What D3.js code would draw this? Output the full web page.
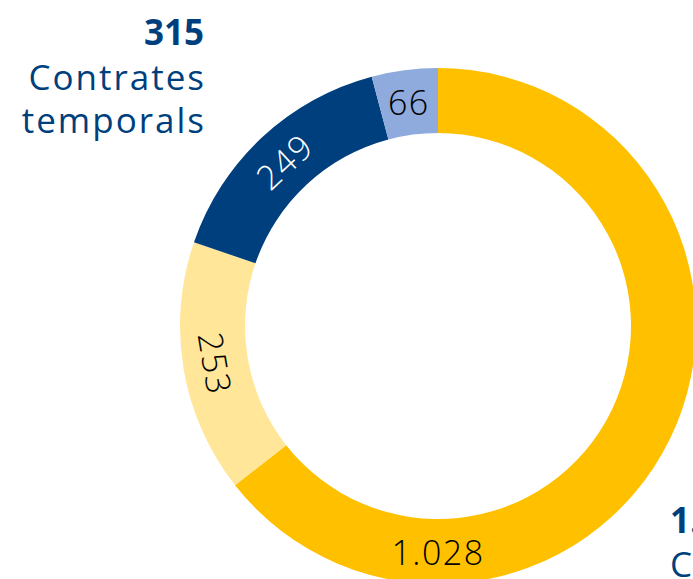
<!DOCTYPE html>
<html><head><meta charset="utf-8">
<script src="https://cdn.jsdelivr.net/npm/d3@7"></script>
<style>
html,body{margin:0;padding:0;background:#fff;overflow:hidden;}
svg{display:block;font-family:"Open Sans",sans-serif;}
</style></head>
<body><svg id="c" width="693" height="579"></svg>
<script>
const categories = ["Indefinits A", "Indefinits B", "Temporals A", "Temporals B"];
const values = [1028, 253, 249, 66];
const valueLabels = ["1.028", "253", "249", "66"];
const colors = ["#FFC000", "#FFE699", "#003F7D", "#8FAADC"];
const labelColors = ["#000000", "#000000", "#ffffff", "#000000"];
const groupTotals = ["315", "1.281"];
const groupNames = [["Contrates", "temporals"], ["Contractes", "indefinits"]];

const svg = d3.select("#c");
const cx = 438, cy = 326, rOuter = 258, rInner = 193;
const g = svg.append("g").attr("transform", `translate(${cx},${cy})`);

const pie = d3.pie().sort(null).value(d => d)(values);
const arc = d3.arc().innerRadius(rInner).outerRadius(rOuter);

g.selectAll("path").data(pie).join("path")
  .attr("d", arc).attr("fill", (d,i) => colors[i]);

const maxV = d3.max(values);
g.selectAll("text.v").data(pie).join("text")
  .attr("class","v")
  .attr("transform", (d,i) => {
    let a = (d.startAngle + d.endAngle)/2;
    let rot = 0;
    if (d.value === maxV) { a = Math.PI; }
    else if (d.endAngle - d.startAngle > 0.5) {
      let deg = a*180/Math.PI;
      rot = deg > 270 ? deg - 360 : deg - 180;
    }
    const r = (rInner+rOuter)/2;
    const x = r*Math.sin(a), y = -r*Math.cos(a);
    return `translate(${x},${y}) rotate(${rot})`;
  })
  .attr("text-anchor","middle")
  .attr("dominant-baseline","central")
  .attr("font-size", 34)
  .attr("font-weight", 300)
  .attr("letter-spacing", 1.5)
  .attr("fill", (d,i) => labelColors[i])
  .text((d,i) => valueLabels[i]);

// Group labels
const blue = "#003F7D";
const left = svg.append("text").attr("text-anchor","end").attr("fill",blue).attr("font-size",35);
left.append("tspan").attr("x",204).attr("y",45).attr("font-weight",700).text(groupTotals[0]);
groupNames[0].forEach((t,i)=> left.append("tspan").attr("x",206).attr("y",90+i*43).attr("font-weight",400).attr("letter-spacing",2).text(t));

const right = svg.append("text").attr("text-anchor","start").attr("fill",blue).attr("font-size",35);
right.append("tspan").attr("x",670).attr("y",533).attr("font-weight",700).text(groupTotals[1]);
groupNames[1].forEach((t,i)=> right.append("tspan").attr("x",670).attr("y",577+i*43).attr("font-weight",400).attr("letter-spacing",2).text(t));
</script></body></html>
